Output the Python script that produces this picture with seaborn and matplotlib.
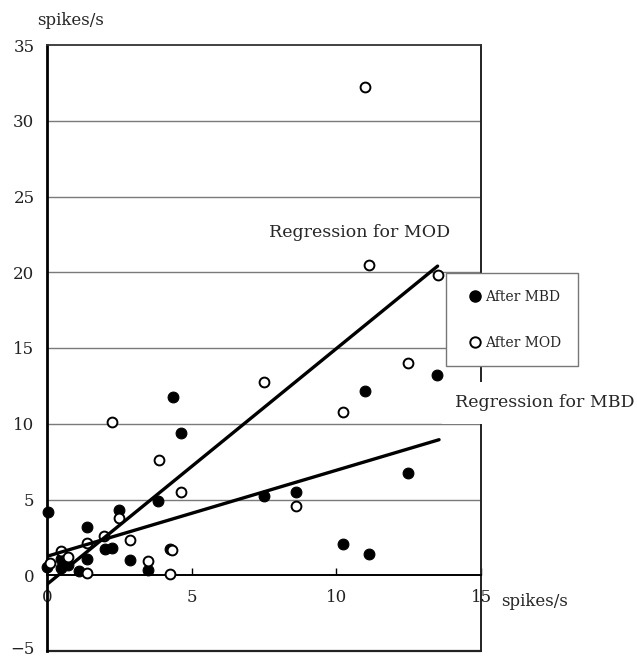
import matplotlib
matplotlib.use("Agg")
import matplotlib.pyplot as plt
from matplotlib.lines import Line2D
import matplotlib.transforms as mtransforms
import seaborn as sns
import pandas as pd
import numpy as np

# ---- data ----
mbd_x = [0.05, 0.0, 0.5, 0.5, 0.73, 1.1, 1.37, 1.37, 2.0, 2.26, 2.49, 2.87, 3.48,
         3.85, 4.25, 4.37, 4.62, 7.5, 8.6, 10.24, 11.0, 11.13, 12.49, 13.49]
mbd_y = [4.16, 0.55, 1.05, 0.5, 0.7, 0.26, 3.2, 1.05, 1.7, 1.8, 4.3, 1.0, 0.33,
         4.9, 1.7, 11.76, 9.39, 5.26, 5.5, 2.04, 12.13, 1.43, 6.75, 13.25]

mod_x = [0.1, 0.47, 0.74, 1.37, 1.37, 1.97, 2.25, 2.49, 2.87, 3.48, 3.87, 4.25,
         4.33, 4.62, 7.5, 8.6, 10.24, 10.98, 11.12, 12.49, 13.5]
mod_y = [0.83, 1.6, 1.23, 2.12, 0.17, 2.6, 10.13, 3.77, 2.3, 0.97, 7.63, 0.07,
         1.68, 5.5, 12.76, 4.54, 10.77, 32.2, 20.5, 14.0, 19.85]

# regression lines: intercept, slope, x-range
mod_reg = (-0.6, 1.556, [0.0, 13.5])
mbd_reg = (1.25, 0.568, [0.0, 13.55])

x_ticks = [0, 5, 10, 15]
y_ticks = [-5, 0, 5, 10, 15, 20, 25, 30, 35]
legend_labels = ["After MBD", "After MOD"]
unit = "spikes/s"

sns.set_style("white")
plt.rcParams['font.family'] = ['DejaVu Serif']

fig = plt.figure(figsize=(6.37, 6.59), dpi=100)
ax = fig.add_axes([47/637, 1-651/659, (481-47)/637, (651-45)/659])

ax.set_xlim(0, 15)
ax.set_ylim(-5, 35)

# gridlines
for yv in y_ticks[2:-1]:
    ax.axhline(yv, color="#7a7a7a", lw=1.0, zorder=1)

df_mbd = pd.DataFrame({"x": mbd_x, "y": mbd_y})
df_mod = pd.DataFrame({"x": mod_x, "y": mod_y})

sns.scatterplot(data=df_mbd, x="x", y="y", ax=ax, color="black", edgecolor="black",
                s=60, linewidth=0.8, zorder=3, clip_on=False)
sns.scatterplot(data=df_mod, x="x", y="y", ax=ax, color="white", edgecolor="black",
                s=50, linewidth=1.4, zorder=4, clip_on=False)

for b0, b1, xr in (mod_reg, mbd_reg):
    xs = np.array(xr)
    sns.lineplot(x=xs, y=b0 + b1 * xs, ax=ax, color="black", lw=2.4, zorder=5)

ax.set_xlabel("")
ax.set_ylabel("")

# spines
ax.spines['left'].set_linewidth(2.0)
ax.spines['left'].set_color('black')
ax.spines['bottom'].set_position(('data', 0))
ax.spines['bottom'].set_linewidth(1.4)
ax.spines['bottom'].set_color('black')
ax.spines['right'].set_linewidth(1.4)
ax.spines['right'].set_color('#222222')
ax.spines['top'].set_linewidth(1.3)
ax.spines['top'].set_color('#333333')
ax.axhline(-5, color='#222222', lw=1.6, zorder=2, clip_on=False)

ax.set_xticks(x_ticks)
ax.set_xticklabels([str(t) for t in x_ticks])
ax.set_yticks(y_ticks)
ax.set_yticklabels([str(t).replace('-', '\u2212') for t in y_ticks])
ax.tick_params(axis='x', direction='in', length=5, width=1.0, pad=10,
               labelsize=12, colors='black', labelcolor='#222222', bottom=True)
ax.tick_params(axis='y', length=0, pad=9, labelsize=12, labelcolor='#222222')

# nudge the lowest y label up slightly so it stays inside the canvas
lowest = ax.get_yticklabels()[0]
lowest.set_transform(lowest.get_transform() +
                     mtransforms.ScaledTranslation(0, 3/100, fig.dpi_scale_trans))

ax.text(-0.35, 36.6, unit, fontsize=12, ha='left', va='center', clip_on=False)
ax.text(15.7, -1.7, unit, fontsize=12, ha='left', va='center', clip_on=False)

ax.text(10.8, 22.6, "Regression for MOD", fontsize=12.5, ha='center', va='center')
ax.text(14.1, 11.4, "Regression for MBD", fontsize=12.5, ha='left', va='center',
        clip_on=False, zorder=6,
        bbox=dict(facecolor='white', edgecolor='none', pad=9))

handles = [
    Line2D([], [], marker='o', ls='none', color='black', markerfacecolor='black',
           markersize=8),
    Line2D([], [], marker='o', ls='none', color='black', markerfacecolor='white',
           markeredgewidth=1.4, markersize=7.5),
]
leg = ax.legend(handles, legend_labels, loc='upper left',
                bbox_to_anchor=(446/637, 1-273/659), bbox_transform=fig.transFigure,
                borderaxespad=0, frameon=True, fancybox=False, framealpha=1,
                edgecolor='#777777', fontsize=10, borderpad=1.2, handlelength=1.8,
                handletextpad=-0.2, labelspacing=2.3)
leg.get_frame().set_linewidth(1.0)
leg.set_zorder(7)

fig.savefig("out.png", dpi=100)
